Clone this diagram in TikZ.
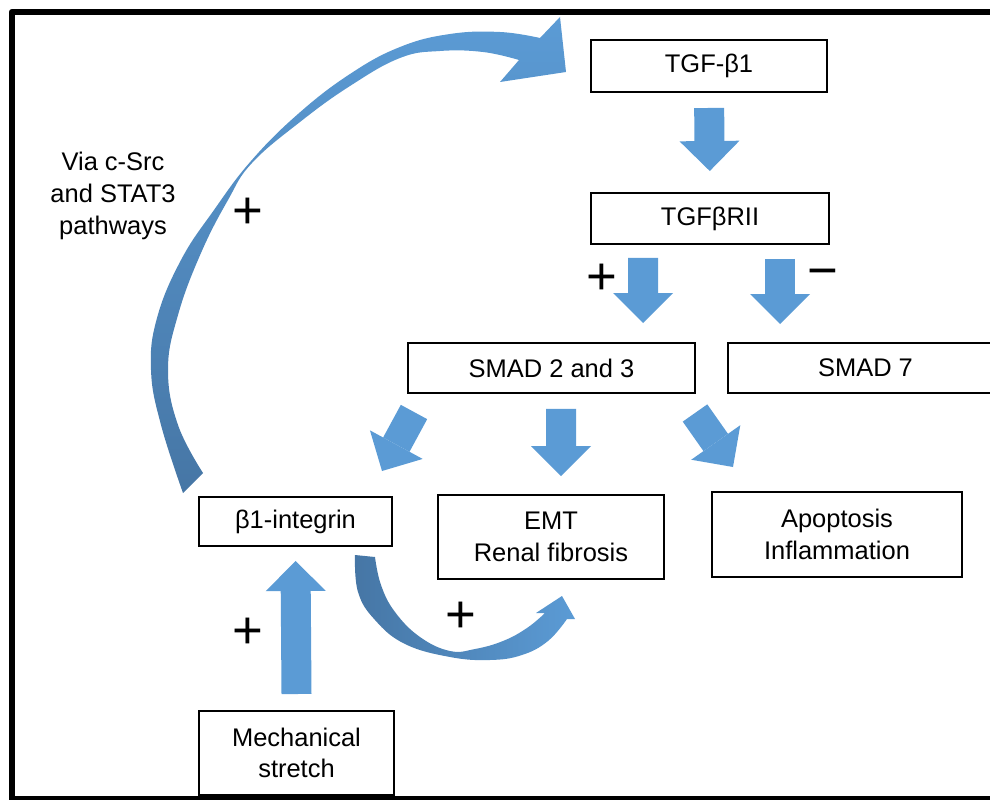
\documentclass[tikz,border=0pt]{standalone}
\usepackage{fontspec}
\setmainfont{Liberation Sans}
\usetikzlibrary{arrows.meta, calc}

\definecolor{arrowblue}{RGB}{91,155,213}
\definecolor{arrowdark}{RGB}{70,118,165}

\newcommand{\labelfont}{\fontsize{14.5}{18}\selectfont}
\newcommand{\signfont}{\fontsize{30}{30}\selectfont}

\begin{document}
\begin{tikzpicture}[
    x=0.02cm,
    y=-0.02cm,
    box/.style={draw, line width=0.04cm, fill=white, inner sep=0pt, align=center, font=\labelfont},
    note/.style={align=center, font=\labelfont, inner sep=0pt},
    sign/.style={font=\signfont, inner sep=0pt},
    blockarrow/.style={draw=arrowblue, line width=0.6cm, -{Triangle[length=0.6cm, width=1.2cm, line width=0pt]}},
    frame/.style={draw, black, line width=0.13cm, line join=round}
]
  \useasboundingbox (0,0) rectangle (990,803);
  \clip (0,0) rectangle (990,803);
  % Frame, open on the right
  \draw[frame] (1000,12) -- (12,12) -- (12,800);
  \draw[line width=0.07cm] (12,798) -- (1000,798);

  % Boxes
  \node[box, minimum width=4.74cm, minimum height=1.04cm] (tgf) at (709,66) {TGF-β1};
  \node[box, minimum width=4.76cm, minimum height=1.02cm] (rii) at (710,218.5) {TGFβRII};
  \node[box, minimum width=5.74cm, minimum height=1.0cm] (smad23) at (551.5,368) {SMAD 2 and 3};
  \node[box, minimum width=5.5cm, minimum height=1.0cm] (smad7) at (865.5,368) {SMAD 7};
  \node[box, minimum width=3.86cm, minimum height=0.98cm] (integrin) at (295.5,521.5) {β1-integrin};
  \node[box, minimum width=4.52cm, minimum height=1.68cm] (emt) at (551,537) {EMT\\Renal fibrosis};
  \node[box, minimum width=5.0cm, minimum height=1.7cm] (apop) at (837,534.5) {Apoptosis\\Inflammation};
  \node[box, minimum width=3.9cm, minimum height=1.68cm] (mech) at (296.5,753) {Mechanical\\stretch};

  % Block arrows
  \draw[blockarrow, shorten <=0.3cm, shorten >=0.42cm] (tgf.south) -- (rii.north);
  \draw[blockarrow] ($(rii.south)+(-67,13)$) -- ($(smad23.north)+(91.5,-19)$);
  \draw[blockarrow] ($(rii.south)+(70,14)$) -- ($(smad7.north)+(-85.5,-18)$);
  \draw[blockarrow] ($(smad23.south)+(-137.5,18)$) -- ($(integrin.north)+(86.5,-25)$);
  \draw[blockarrow] ($(smad23.south)+(9.5,15)$) -- ($(emt.north)+(10,-18)$);
  \draw[blockarrow] ($(smad23.south)+(143.5,19)$) -- ($(apop.north)+(-104,-24)$);
  \draw[blockarrow] ($(mech.north)+(0,-16)$) -- ($(integrin.south)+(0,14)$);

  % Curved feedback arrow, integrin back to TGF-beta1
  \shade[top color=arrowblue, bottom color=arrowdark]
    plot[smooth, tension=0.7] coordinates {(183,493) (161,425) (151,370) (157,318) (181,260) (214,210) (251,161) (298,114) (350,74) (400,47) (450,34) (500,32) (540,38)}
    -- (560,17) -- (566,72) -- (500,82) -- (519,60)
    -- plot[smooth, tension=0.7] coordinates {(519,60) (483,52) (440,51) (400,58) (350,86) (300,122) (252,163) (228,200) (201,253) (178,315) (168,370) (178,425) (203,473)}
    -- cycle;
  % Curved arrow, integrin to EMT
  \shade[left color=arrowdark, right color=arrowblue]
    plot[smooth, tension=0.7] coordinates {(355,555) (358,592) (375,620) (405,644) (450,657) (490,660) (522,655) (548,641) (567,619)}
    -- (575,619) -- (562,596) -- (536,613) -- (545,613)
    -- plot[smooth, tension=0.7] coordinates {(545,613) (527,628) (503,641) (475,649) (450,651) (420,637) (395,612) (381,585) (375,557)}
    -- cycle;

  % Labels and signs
  \node[note] (via) at (113,196) {Via c-Src\\and STAT3\\pathways};
  \node[sign] (plusloop) at (248,213) {+};
  \node[sign] (plusrii) at (602,279) {+};
  \node[sign] (minusrii) at (823,279) {−};
  \node[sign] (plusemt) at (461,617) {+};
  \node[sign] (plusmech) at (248,633) {+};
\end{tikzpicture}
\end{document}
